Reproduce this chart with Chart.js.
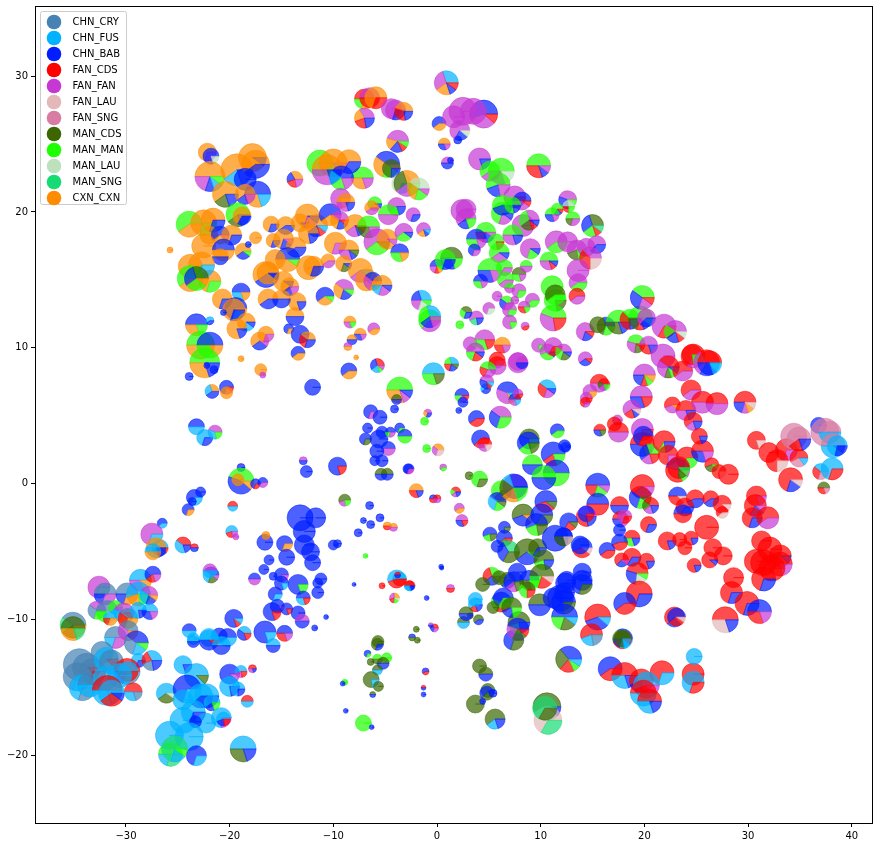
<!DOCTYPE html>
<html>
<head>
<meta charset="utf-8">
<title>Pie scatter</title>
<script src="https://cdn.jsdelivr.net/npm/chart.js@4"></script>
<style>
  html, body { margin: 0; padding: 0; background: #fff; }
  canvas { display: block; }
</style>
</head>
<body>
<canvas id="pieChart" width="879" height="846"></canvas>
<script>
// legend order
const categories = ["CHN_CRY", "CHN_FUS", "CHN_BAB", "FAN_CDS", "FAN_FAN", "FAN_LAU", "FAN_SNG", "MAN_CDS", "MAN_MAN", "MAN_LAU", "MAN_SNG", "CXN_CXN"];
const categoryCodes = ["C", "F", "B", "R", "P", "L", "S", "D", "G", "A", "N", "O"];
const categoryColors = ["#4682b4", "#00b2ff", "#001eff", "#ff0000", "#c637d3", "#e2b8b8", "#d87ca3", "#3b6600", "#1eff00", "#bde0bd", "#15db74", "#ff8c00"];

const xTicks = [-30, -20, -10, 0, 10, 20, 30, 40];
const yTicks = [-20, -10, 0, 10, 20, 30];

// each row: x, y, sample count, slices (biggest first, code + weight)
const pinkOrangeNorth = [
  [-25.75,17.2,9,"O"],[-22.15,24.4,81,"O7P3"],[-21.8,24.1,64,"B8A2"],[-21.9,22.6,225,"O5P2B1F1G1"],[-19.3,23.1,256,"O6F2B2"],[-17.8,24,196,"O9B1"],[-17.5,23.5,196,"O6B4"],[-18.5,22.4,121,"B9"],[-17.3,21.3,169,"B5O3F2"],[-20.4,21.3,169,"O6D2B2"],[-18.5,21.3,100,"O6B2P2"],[-19.2,19.8,144,"G6D2B2"],[-18.8,19.7,81,"O6B3"],
  [-23.9,19.1,169,"G6O4"],[-22.5,19.2,169,"O7G3"],[-21.6,19.4,144,"O7B3"],[-22,18.3,81,"O9"],[-20.9,18.3,81,"B6O3P1"],[-19.8,18.3,100,"O7B3"],[-22.5,17.5,144,"O9"],[-20.6,17.2,121,"B5O5"],[-20.9,16.7,64,"O5B5"],[-18.7,17.1,64,"O6B3G1"],[-17.5,18.1,36,"O"],[-18.2,17.6,9,"B"],
  [-16,19.1,64,"O7B3"],[-14.6,19,81,"O6B4"],[-13.2,19.2,81,"O8B1"],[-12.5,19.7,144,"O7P2B1"],[-11.6,19,121,"O6B2R1F1"],[-10.3,19.8,121,"B6O3P1"],[-9.4,19.4,81,"P4O3B2R1"],[-7.9,19,121,"O6P2B1R1"],[-6.6,18.9,121,"G5D3P2"],[-5.8,17.8,169,"P6G3D1"],[-4.8,18,100,"O8P1"],[-9.8,17.7,121,"O7P3"],[-8.5,17.2,100,"O5P3B1D1"],
  [-15.8,17.9,49,"O7B3"],[-14.8,18,100,"O7B2P1"],[-13.6,17.4,100,"O6B4"],[-12.4,18.4,100,"O7B2"],[-14.4,16.5,144,"B5O4G1"],[-15.6,16.5,100,"O9"],[-16.5,15.4,169,"O6B4"],[-16.3,15.5,121,"O8B1"],[-14.8,14.9,100,"O9B1"],[-14.2,14.5,81,"O6B2P2"],[-12.4,15.9,144,"O8"],[-11.9,16,100,"O7B3"],[-10.5,16.4,49,"O6P4"],[-9,16.2,64,"O7D2B1"],[-7.4,15.7,144,"O6P3F1"],[-6.8,15,121,"O7P1"],[-6.2,14.9,81,"B4P3O3"],[-5.3,14.6,100,"O5F2P2B1"],
  [-3.6,17,81,"B5G3O2"],[-3.2,18.5,81,"P6G3B1"],[-2.3,19.8,49,"P7B3"],[-1.3,18.7,49,"P6O2B1F1"],[-9,14.3,100,"P4O3B2G1"],[-10.8,13.8,81,"B6O3G1"],[-20.7,13.6,100,"O7B3"],[-18.9,14.1,81,"B5F3O2"],[-21.9,14.9,121,"O7G3"],[-23.8,16,144,"O7G3"],[-22.7,16.1,169,"O6F3"],[-23.8,15.1,169,"G6O4"],[-23.2,15.1,144,"D3B3G3O1"],
  [-19.4,12.9,121,"B7F2O1"],[-19.6,12.8,121,"O7B3"],[-20.6,12.6,9,"B"],[-18.4,11.9,81,"O7F2B1"],[-19.3,11.4,100,"O8B2"],[-23.2,11.7,121,"B5O3G2"],[-21.9,12,16,"F6B4"],[-22.8,10.2,196,"G5O5"],[-21.9,10.2,169,"B5G3O2"],[-22.4,8.9,225,"G5O3B2"],[-22.2,8.7,9,"B"],[-21.5,8.4,16,"B"],[-23.9,7.9,16,"B"],[-18.9,9.2,9,"O"],
  [-17.1,10.5,81,"O6B3P1"],[-16.5,11,64,"O7P3"],[-17,8.4,36,"O"],[-16.8,8,9,"P"],[-13.7,12.3,81,"O5B5"],[-13.5,13.4,81,"O8B2"],[-16.3,13.6,100,"O6B4"],[-15,13.6,81,"O5B5"],[-14.3,11.4,25,"B7O3"],[-13.2,11,81,"B8"],[-12.5,10.6,64,"O4R3B3"],[-13.4,9.6,49,"B6O4"],[-8.5,8.3,64,"B6O4"],[-12,7.1,64,"B"],
  [-8.4,11.9,36,"O5P3G2"],[-7.4,11,36,"O5B3P2"],[-8.2,10.6,25,"O5B5"],[-8.6,10.1,16,"P5O5"],[-6.1,11.4,36,"P6O4"],[-7.8,9.3,6,"O"],[-5.75,8.7,49,"R3B3F2G1P1"],
  [-21.7,6.8,49,"O3F3B4"],[-20.3,7.1,49,"B7P2R1"],[-20.3,6.7,36,"O9"],[-4.85,23.5,169,"B4O3G2P1"],[-4.4,23.2,81,"D6B2"],[-3.4,22.1,100,"A7F3"],[-2.9,22.1,169,"O3D3P2G2"],[-1.8,21.7,121,"A4O3G2P1"],[-3.8,25.2,121,"P5O2B2R1G1"],[-7.2,22.5,121,"G5O3P2"],
  [-11.3,23.6,169,"G8O2"],[-10,23.6,196,"O6G2P2"],[-8.5,23.7,144,"O6B3"],[-10.6,23.1,225,"O5P3B2"],[-9.2,22.5,144,"B4F2G2P2"],[-13.7,22.4,64,"O3B2R2P2"],[-9.3,21,100,"P7O2"],[-8.8,20.7,81,"O5P3B2"],[-3.9,20.4,81,"P6G2B2"],[-4.7,19.8,100,"G4P4"],[-6,20.6,49,"G6O3B1"],[-6.3,20.3,49,"O6P4"]
];

const purpleGreenNorth = [
  [0.9,29.5,144,"F3P3O2B1R1"],[-7,28.3,100,"R5G2O3"],[-6.5,28.4,100,"P5R5"],[-5.9,28.4,121,"O7R3"],[-7,26.9,100,"P3O2R2B2"],[-4.4,27.6,100,"P8"],[-4,27.5,100,"P7B3"],[-3.2,27.4,81,"O4R3B2"],[0.2,26.5,49,"B6O4"],[0.7,25,36,"O5B3P2"],[2,25.3,16,"B"],[4.5,27.2,196,"B5P3R1"],[3.5,27.4,169,"P9"],[2.5,27.4,196,"P8"],[1.6,27,121,"P"],[2.2,26,100,"P6B2A1"],[1,23.6,36,"P5B5"],[1.3,23.8,9,"B"],[4.1,23.9,121,"P8B2"],
  [5.1,23,100,"G6P4"],[6.2,23,169,"G6P2A2"],[5.9,22,144,"G5B2P2"],[6.3,19.9,121,"G7P2B1"],[7.5,21.1,121,"P6B3R1"],[8.2,20.8,81,"B5P4R1"],[9.8,23.4,144,"G5R3B1P1"],[6.3,20.5,100,"G5B4"],[7.3,20.5,64,"G7B2"],[2.4,20.1,121,"P8"],[2.8,20.2,100,"P8"],[2.8,19.5,100,"P6B2G2"],[8.3,19,121,"P9"],[8.9,19.4,100,"P3G3D2R1B1"],[12.6,20.9,81,"P4B3A1G1"],[12.7,20.4,36,"A4R2G2"],[11.6,20.2,36,"G6B2R1"],[11.1,19.8,49,"G5B3P2"],[13.1,19.5,49,"G5D2P3"],[15,19,121,"D3B3G2R1N1"],
  [4.7,18.5,100,"G5R2B2P1"],[3.8,18,100,"B5G3P2"],[3.6,17.2,36,"B7P3"],[5.7,17.8,64,"G7R2"],[6,17,100,"G6P3B1"],[7.3,18.3,100,"G5P3B2"],[9,17.3,100,"P7G2B1"],[10.8,16.4,81,"G5P3R1B1"],[11.5,17.8,121,"P6G4"],[12.6,17.8,100,"P8"],[13.5,17.2,100,"P5D2G2"],[14.4,17.4,81,"P7"],[15.4,17.6,81,"P5B3"],[14.8,16.6,121,"P3R3L2"],[13.6,15.7,121,"P9"],[13.6,14.8,81,"P6G4"],[13.5,13.8,64,"R6P4"],[11.1,14.5,121,"G9"],[11.4,13.5,121,"G7D2"],[11.4,13.9,100,"D6G4"],[11.2,12.2,169,"G4P3R2"],
  [5.1,15.7,144,"G5B3P2"],[6.5,15.9,64,"G6P3"],[6.6,15,64,"G6P4"],[4.2,14.9,49,"B5G3P2"],[7.9,15.4,49,"D5G3P2"],[8.6,16,36,"G5P5"],[7.9,14.2,49,"P7G3"],[7,14.4,25,"G5P5"],[5.8,13.8,25,"P"],[6.7,13.3,49,"G4B3P3"],[7,12.8,49,"P7G3"],[7.5,13.5,16,"P"],[9.2,13.5,49,"P6G4"],[8.4,13,36,"P5R3G2"],[5,12.9,36,"P7A3"],[3.8,12.2,49,"P5N2B2"],[2.8,12.6,36,"D4G3B3"],[2.2,11.7,16,"G"],[7,11.9,49,"P8G2"],[8.5,11.6,16,"P6R4"],
  [14.3,11.2,81,"P7B2R1"],[15.5,11.7,64,"D7"],[16.3,11.6,81,"B3D4G3"],[17.5,11.9,144,"G5D3B2"],[18.6,12.1,100,"G3R3B2"],[19.6,12.2,144,"G5D2R1B1N1"],[20.2,12.2,81,"P5B3"],[3.2,10.3,49,"P8G1"],[4.6,10.6,100,"P5G3R2"],[3.7,9.7,81,"P5G2R2B1"],[6.3,10.2,64,"O5R3P2"],[5.8,9.1,64,"R6P3"],[7.8,9,81,"P6"],[9.8,10.2,49,"P7G2"],[10.7,9.7,64,"P5G3B1"],[11.2,10.1,81,"P6R3"],[12.2,9.7,64,"P4G3D2B1"],[14.3,9.2,49,"P6B3R1"],
  [0,16,49,"B5P2R1O1G1"],[1.4,16.6,121,"D5B3G2"],[0.8,16.5,100,"G7B3"],[-1.5,13.5,100,"F3B2P2A2G1"],[-0.7,12,121,"G5P3"],[-0.7,12.3,121,"F3G3B2P2"],
  [-0.35,8.1,121,"F5G3D2"],[1.4,8.8,49,"F3G2R2B2D1"],[-3.6,6.9,169,"G5O3P1B1"],[2.4,6.5,49,"B5G2P2R1"],[2.5,6,25,"B"],[2.1,5.4,9,"B"],[-0.9,5.2,16,"P4O3B3"],[-1.2,4.6,16,"G"],[-1,2.6,16,"G"],[0.1,2.5,36,"O4P3L3"],[0.6,1.2,12,"P6G4"]
];

const redEast = [
  [19.8,13.7,144,"G4B3P2R1"],[21.9,11.6,144,"P6R3"],[23,11.2,121,"P4G2B2R1A1"],[19.2,10.3,81,"G5P3D2R1"],[20.4,10.2,81,"P5R3B2"],[21.8,9.4,144,"P8"],[22.3,8.6,121,"R4P3D1G1B1"],[23.7,8.3,100,"R6P4"],[24.7,9.4,144,"R6P2G1"],[24.6,9.5,100,"R7G2"],[26,8.9,169,"R3P3B2F1"],[26.3,8.9,144,"R5B3F2"],[24.5,6.9,100,"R6P4"],[20,8,121,"P5B2R1G1O1"],[15.65,7.4,81,"R5P5"],[16.1,7.3,36,"R4D2P2G2"],[14.75,6.8,49,"P6O3"],[14.4,6.3,36,"P6R2"],[14.3,6,25,"R7P3"],[19.7,6.4,121,"P5B3R2"],[18.8,5.5,81,"P6R2B1L1"],[22.7,5.8,64,"R5P3O1"],[24,5.4,100,"R5P3B2"],[25.6,6,121,"R4P4"],[27,5.9,121,"R5P5"],[29.7,6,121,"R5B2P1O1L1"],[24.7,4.6,81,"R6P2B2"],
  [17.4,4.7,25,"P7"],[17.1,4.4,49,"R"],[17.5,3.8,100,"R5P5"],[15.7,3.95,36,"R5B3D2"],[19.8,4,121,"P6R2"],[19.8,2.9,144,"R5B3D1P1"],[19.9,3.5,100,"B6R3"],[20.5,2.2,100,"G3B3P2R2"],[21.9,3.1,121,"R6G1B2"],[22.3,2.1,100,"R6P2"],[24.1,1.9,121,"R7G3"],[23.2,1,144,"B5R4G1P1"],[23.3,1.2,121,"R6D1G1"],[25.6,2.4,121,"R5B3P2"],[25.3,3.5,64,"R8B2"],[26.5,1.4,49,"R5D3G1"],[27.2,0.9,49,"R7L2"],[28.1,0.7,100,"R"],
  [30.8,3.2,81,"R8L2"],[32,2.3,100,"R"],[33.7,2.5,121,"R5P2"],[32.8,1.7,121,"R6L2"],[34.9,1.9,81,"R4S2F1"],[34.4,3.5,169,"S"],[34.9,3.3,144,"S6R2B2"],[34.1,0.3,144,"R7B2L1"],[36.8,4.3,64,"B"],[37.4,3.8,196,"S"],[37.9,3.8,121,"S5F5"],[38.2,2.8,144,"S5F4B1"],[38.6,2.8,100,"F5B2"],[37,0.9,64,"F4R3S3"],[38.1,1.1,121,"F7R3"],[37.3,-0.3,36,"D5R3S2"],
  [15.5,-0.1,144,"B5R2G2P1"],[15.5,-1.5,121,"B5R5"],[19.8,-0.2,144,"R6B3P1"],[19.6,-1,121,"R4B3G2D1"],[20.6,-1.6,64,"R4D2P2B2"],[17.6,-1.6,81,"R5B5"],[17.7,-2.6,64,"R5B3P2"],[18.1,-2.4,49,"P7R3"],[23.2,-0.9,81,"B4R3L1"],[24.9,-1.1,81,"R5B4"],[23.9,-1.7,81,"R6B3"],[23.7,-2.2,81,"B5R5"],[26.4,-1.1,64,"R6B4"],[27.5,-1.5,81,"R7L1"],[27.5,-2.1,36,"R5L3"],[30.8,-0.9,100,"R8P2"],[30.7,-1.6,121,"R6B2P1"],[30.4,-2.5,100,"R7B3"],[31.9,-2.5,121,"R6P4"],[26,-3.2,144,"R"],[20.4,-3,64,"R7B3"],
  [17.6,-3.4,36,"B"],[18.8,-4,64,"R5G3B2"],[17.6,-4.3,64,"B5R4"],[16.4,-4.9,64,"B6R4"],[18.8,-5.4,81,"R6B3"],[17.8,-5.6,49,"R5B2P1"],[20.2,-5.7,64,"R8B2"],[19.3,-6.6,121,"R5B3A2G1"],[22.2,-4.2,81,"R8B2"],[23.4,-4.1,49,"R"],[23.9,-4.7,49,"R"],[24.5,-4,49,"R8B2"],[26.6,-4.7,81,"R"],[27.6,-5.3,81,"R"],[26.3,-5.6,64,"R8B1"],[24.8,-6,49,"R8B2"],[28.6,-6.9,100,"R"],
  [31.3,-4.2,100,"R"],[32.1,-4.8,144,"R"],[33.1,-5.3,121,"R8B1"],[30.8,-5.7,144,"R"],[31.5,-5.8,169,"R"],[33.1,-5.9,144,"R7P2"],[32.3,-6.2,169,"R"],[31.5,-7,144,"R7B3"],[14,-4.7,100,"B5R3L1"],[13.8,-4.5,81,"B"],[14.4,-2.4,100,"P4R3B2"],[14.4,-2.2,64,"B7R2"],[12.7,-2.8,81,"B6R2D1"],[12.2,-3.9,81,"B5D3"],[12.4,2.7,25,"B"],
  [28.4,-8,121,"R7B3"],[29.9,-8.8,144,"R7B3"],[31.1,-9.4,144,"B5R3P2"],[27.8,-10,169,"R5L3B2"],[22.9,-9.8,100,"R5B2L1"],[23.1,-9.8,81,"B6R3L1"],[19.5,-8.1,169,"R7B3"],[18.1,-8.8,121,"B6R4"],[15.5,-9.8,169,"R5B3F1"],[14.9,-11.1,121,"R5F2C2"],[17.9,-11.4,100,"B3D2R2F2"],[17.9,-11.4,81,"D5B2F2R1"],
  [16.7,-13.6,144,"B6R4"],[18.1,-14.1,169,"R5F3B2"],[19.7,-14.5,144,"R5B2P2"],[21.7,-13.9,144,"R7F3"],[20.2,-14.8,169,"F5R2P2"],[19.9,-15.4,169,"R5F5"],[20.5,-16,144,"R5F3B2"],[24.7,-14,121,"R8"],[24.7,-14.6,121,"F7R3"],[24.8,-12.7,64,"F"]
];

const mixedCentre = [
  [6.2,-0.5,100,"G5D3"],[5.8,-1.3,81,"B4F3G2D1"],[7.5,-0.2,144,"P6B4"],[7.4,-0.3,196,"B3F1D2O2G2"],[3.8,4.8,64,"B6R4"],[6.1,4.9,121,"P4B3G3"],[6.8,6.7,121,"B4P3O1F1"],[7.5,6.2,36,"B5P3F2"],[7.8,6.6,25,"P5R3"],[4.7,7,25,"F6B4"],[4.8,7.5,49,"P4B3R1F1"],[5.8,8.7,81,"R5P5"],[4.9,8.4,64,"G4R2P3"],[7.8,8.9,100,"P8"],[8.2,8.9,36,"P5B5"],[10.6,7,81,"F4R3P2B1"],[11.6,3.9,49,"B6G4"],[12.3,2.8,36,"B"],[8.9,3.3,100,"D4B3G2"],[8.8,3,121,"B6G2D2"],[4.2,3.3,81,"B5R3"],[4.6,2.9,49,"R5P3L2"],[11.2,2.2,144,"B6R2G2"],[9.2,1.4,100,"G5B5"],[11.5,0.8,169,"B5G5"],[10.3,0.45,144,"G5B5"],[10.5,-1.3,121,"B5R3D1"],
  [3.1,0.6,16,"D"],[4.1,0.35,64,"G7D3"],[-2.8,1.1,25,"B7P3"],[-2,-0.5,49,"O5R3B2"],[-0.35,-1.1,16,"B5R5"],[0,-1.1,16,"R5P5"],[1.8,-0.6,25,"R4G2P2B2"],[2.15,-1.8,25,"P6O4"],[2.4,-2.7,36,"P5B3R2"],
  [8.3,-2.3,121,"D5B3O1"],[10.1,-2.3,121,"B6D3"],[9.6,-3,121,"B5G2D2"],[6.5,-3.2,36,"B6D2"],[5.1,-3.7,49,"B5G2D2"],[6.5,-4,64,"B5D2R1"],[5.8,-4.6,36,"B"],[6.9,-5,121,"N3B3D3"],[8.7,-5,169,"D6B3G1"],[9.7,-4.7,81,"D6B3"],[10.3,-5.6,100,"D5G2B2"],[11.4,-4,169,"B"],[12.2,-3.9,81,"B5D3L2"],[5.3,-6.8,81,"G3R3B3D1"],[6,-6.9,49,"D7"],[4.4,-7.4,49,"D"],[6.8,-7.1,64,"D5B3"],[7.75,-6.5,81,"B"],[7.4,-7.2,100,"B6P2D2"],[8.9,-7.1,100,"B5D3G2"],[10.1,-6.8,144,"D5G2R2L1"],[8.7,-7.8,64,"D3G3R2"],
  [14,-6.5,81,"B"],[12.5,-7.1,81,"B"],[14,-7.1,100,"B"],[11.9,-8.4,169,"B"],[9.9,-8.9,121,"D5B5"],[12.3,-8,100,"B7"],[12.2,-8.7,144,"B6D2"],[11.2,-8.4,100,"B"],[14,-7.4,100,"B7D3"],[12.4,-7.3,100,"B"],[12.3,-9.8,169,"B5G2D2F1"],[7.4,-11.5,100,"B7D3"],[7.9,-10.2,121,"D5G2B2"],[7.8,-10.7,121,"B4P2D2R1"],[6.2,-8.7,100,"B4G2R2D1"],[6.4,-8.4,100,"B6G3"],[7.2,-9.1,100,"D5B2G2"],[5.4,-9.1,36,"D"],[3.7,-8.9,49,"F6R2B2"],[4,-10,25,"D6B4"],[3.2,-9.7,9,"D"],[2.55,-10.2,36,"D5F5"],[2.8,-9.55,49,"D5B5"],
  [12.7,-12.9,169,"B4D3R2G1F1"],[17.9,-11.4,64,"D7F2"],[10.6,-16.4,196,"D5N3B1"],[10.7,-17.4,196,"L6N3"],[10.4,-16.5,144,"N6D3"],[5.6,-17.3,100,"D6F2B2"],[3.7,-16.2,81,"D"],[4.9,-15.2,49,"D6B1"],[4.8,-15.4,49,"B5D3"],[5.4,-15.4,16,"B"],[4.4,-16,9,"B"],[4.1,-13.4,49,"D"],[4.7,-14,49,"D5B5"],
  [0.45,-6.2,4,"B"],[0.4,-6.1,6,"B"],[-1,-8.4,6,"B"],[1.3,-7.7,16,"P5R5"],[-2.7,-7.5,25,"R5F3B2"],[-3.6,-7,49,"F5R5"],[3.7,-8.5,49,"F"],[-0.25,-10.6,16,"R4B3P3"],[-0.6,-10.4,6,"P5B5"],[-1.1,-13.8,12,"B6R4"],[-1.3,-15,6,"R5B5"],[-1.3,-15.5,6,"B"]
];

const blueWest = [
  [-23.2,4.2,64,"B5F5"],[-22.4,3.4,64,"F7B3"],[-21.4,3.8,49,"P4F3G2"],[-6.4,5.3,49,"B7P3"],[-5.5,4.9,49,"B"],[-6.7,4.1,25,"B"],[-6.9,3.3,36,"B7D3"],[-5.3,3.8,36,"B"],[-5.6,3.3,81,"B"],[-4.5,3.8,25,"B5G2P3"],[-3.6,4.1,25,"B7G3"],[-3.1,3.5,49,"B5G5"],[-4.1,5.5,16,"B"],[-3.9,6.2,25,"D5B5"],[-4.7,2.6,49,"B5P5"],[-5.8,2.4,49,"B"],[-6,1.7,25,"B"],[-5.3,1.7,36,"B"],[-2.7,1.1,25,"B7P3"],[-5.4,0.7,36,"D5B5"],[-4.8,0.7,36,"D5B5"],
  [-12.9,1.7,16,"P5B5"],[-12.6,0.9,36,"B"],[-9.6,1.3,81,"B8R2"],[-18.9,1.2,16,"B"],[-18.9,0.2,169,"G4B4O1"],[-19.2,0.3,36,"O8"],[-17.5,0,25,"B7R3"],[-16.8,0.1,25,"B6P4"],[-22.8,-0.6,25,"B"],[-23.4,-1,64,"B6F3"],[-23.6,-1.3,16,"B"],[-24,-1.9,36,"B7O3"],[-19.7,-1.65,25,"R5F5"],[-8.9,-1.2,36,"D5P2G2"],
  [-13.2,-2.5,169,"B"],[-11.7,-2.5,100,"B"],[-12.8,-3.5,121,"B"],[-12.8,-4.5,100,"B"],[-12.2,-5,81,"B"],[-12,-5.8,64,"B"],[-16.6,-4.3,64,"B"],[-16.5,-3.8,16,"O"],[-14.7,-4.4,64,"B7O3"],[-14.5,-5.4,64,"B"],[-16.2,-5.6,25,"B"],[-16.7,-6.3,25,"B"],[-17.6,-7,36,"B5P5"],[-15.8,-6.8,16,"B"],[-15,-6.7,49,"B7P2"],[-15,-7.3,49,"B8F2"],[-13.4,-7.4,100,"B8G2"],[-12.9,-8.4,49,"B5F3R2"],[-11.2,-7,36,"B"],[-11.5,-7.3,25,"B"],[-11.5,-8,36,"B"],[-15.6,-8.1,49,"B7F3"],[-15.4,-9,49,"B7P1"],[-15.9,-9.4,81,"B8R2"],[-14.5,-9.2,36,"B8R2"],[-13.4,-9.5,49,"B"],[-13,-10.1,49,"P5B5"],[-11.8,-10.6,9,"B"],[-10.7,-9.8,6,"B"],
  [-19.6,-9.9,81,"B8R1F1"],[-23.9,-10.8,49,"B5F5"],[-16.6,-10.9,121,"B8F2"],[-14.7,-11,64,"B5R3P2"],[-18.6,-11,49,"F4B4R2"],[-21,-11.2,64,"B7F3"],[-20.2,-11.3,81,"B6F4"],[-22,-11.3,81,"F8"],[-23.5,-11.4,36,"F"],[-24.5,-4.5,64,"R4F4B2"],[-23.4,-4.7,16,"R5B5"],[-26.7,-4.7,64,"F5B3R1"],[-26.5,-2.9,25,"B6F4"],[-19.8,-3.5,36,"F5R2P2"],[-19.4,-3.9,9,"P"],[-21.8,-6.7,64,"B4F3D2P1"],[-21.9,-6.4,49,"P4F4"],[-10,-4.5,25,"B"],[-9.6,-4.4,16,"B"],
  [-7.6,-3.6,16,"B"],[-6.5,-1.6,16,"B"],[-7.1,-2.7,9,"B"],[-6.4,-3,16,"B"],[-5.5,-2.5,16,"B"],[-4.8,-3.1,16,"O5R5"],[-4.2,-3.2,16,"O5P5"],[-6.9,-5.3,6,"G"],[-8,-7.4,4,"B"],[-5.3,-7.5,9,"R"],[-3.9,-7,81,"F5R4"],[-3.8,-6.7,9,"R5B5"],[-2.6,-7.5,25,"R5F3B2"],[-4.1,-8.4,25,"O3P3R2G2A1"],
  [-2,-10.7,9,"D"],[-2.4,-11.3,12,"B5D5"],[-1.9,-11.5,9,"D"],[-5.7,-11.6,36,"D"],[-5.75,-11.8,36,"D7B3"],[-6.7,-12.5,12,"B7G3"],[-6.4,-13.1,12,"D"],[-4.85,-12.8,25,"G"],[-5.75,-12.9,25,"G5D5"],[-5.2,-13.2,36,"D5B5"],[-5.75,-13.7,25,"D5F5"],[-6.35,-14.4,64,"D7F2"],[-5.65,-14.9,25,"D"],[-6.2,-15.5,9,"D5B5"],[-8.9,-14.6,9,"G"],[-9.1,-14.7,6,"B"],[-8.8,-16.7,6,"B"],[-7.1,-17.6,64,"G"],[-6.3,-17.9,6,"B"]
];

const skyblueSouthWest = [
  [-35.1,-10.4,169,"C4N2D2O2"],[-35.1,-10.65,144,"D5O3N2"],[-32.6,-7.6,121,"P7C3"],[-32,-8.1,121,"C5B2P3"],[-29.9,-8.1,121,"C5B2O3"],[-28.6,-7.1,121,"F5P3O2"],[-27.4,-6.65,64,"B6R2P2"],[-28.8,-8.1,144,"F5O2G2"],[-27.8,-8.2,81,"P4F3B2O1"],[-32.8,-9.3,81,"P4C3G3"],[-31.8,-9.4,121,"C4G2A2"],[-31,-9.1,49,"G5F3"],[-30.2,-9.5,100,"P4F2O2R1"],[-27.7,-9.4,64,"F5B3P2"],[-29.8,-9.9,100,"C4R3O3"],[-28.8,-9.3,64,"F7B2"],[-31.5,-9.9,49,"F5R2O3"],[-31,-11.3,121,"C5F2P3"],[-29.8,-10.8,100,"C4P4O2"],[-29,-11.7,144,"B4C3F2G1"],[-28.8,-13,49,"F7B3"],[-27.5,-13,100,"F3R2C2B2"],
  [-32.3,-12.4,121,"C8F2"],[-34.5,-13.3,256,"C"],[-33.8,-13.5,196,"C7R1"],[-34.7,-14.2,196,"C7F3"],[-33.2,-13.8,169,"C7R3"],[-31.9,-12.9,144,"F7R1"],[-31.4,-13.1,144,"C8"],[-34.2,-15,169,"F7C3"],[-33.5,-14.8,144,"C5F5"],[-29.9,-13.8,169,"R5B2C3"],[-29.8,-13.8,100,"F5R5"],[-30.6,-14.1,144,"F"],[-32,-14.3,144,"F"],[-31.8,-15.2,225,"R5F3C2"],[-31.4,-15.4,169,"F6R3B1"],[-29.3,-15.3,81,"R5F3C2"],
  [-23.5,-11.6,36,"F5B5"],[-22,-11.5,100,"F5B4R1"],[-20.8,-11.9,81,"F5B5"],[-15.8,-11.9,49,"F5B5"],[-24.5,-13.3,81,"F8B2"],[-23.2,-14.1,144,"F7D1"],[-20,-14,100,"B8P1"],[-18.9,-13.8,36,"F5P2R2"],[-17.8,-13.6,16,"R5P3B2"],[-20,-14.9,100,"F7B2"],[-19.2,-15.1,49,"F6B2"],[-18.3,-16,36,"R5F5"],
  [-26.1,-15.4,100,"F6D3A1"],[-24.1,-15.1,196,"B7F3"],[-24.5,-15.9,100,"F"],[-22.2,-15.6,144,"F7B2"],[-22.8,-15.6,144,"F5B3"],[-21.7,-16.1,64,"F6B2G2"],[-20.8,-17.2,100,"F6P2"],[-20.6,-17.3,49,"F5B2R2"],[-24.5,-17.4,169,"F"],[-23.5,-16.8,144,"F7B3"],[-22.3,-17.6,100,"F"],[-23.3,-17.5,36,"B"],[-25.8,-18.5,196,"F"],[-23.9,-18.6,196,"F"],[-25.7,-19.9,144,"G5F2N3"],[-25.3,-19.5,169,"N7F2G1"],[-23.2,-20,100,"B7F3"],[-18.7,-19.5,169,"F5D3B2"],
  [-27.5,-3.7,121,"P7F3"],[-27.1,-4.7,100,"O5F3B2"],[-27.4,-5,64,"F5O5"]
];

const pieRows = [...pinkOrangeNorth, ...purpleGreenNorth, ...redEast, ...mixedCentre, ...blueWest, ...skyblueSouthWest];

// "O7P3" -> [{ color, weight }, ...]
function parseSlices(mix) {
  const parts = mix.match(/[A-Z]\d*/g);
  return parts.map((p) => ({
    color: categoryColors[categoryCodes.indexOf(p[0])],
    weight: Number(p.slice(1)) || 1,
  }));
}

const piePoints = pieRows.map((row) => ({
  x: row[0],
  y: row[1],
  r: Math.sqrt(row[2]),
  slices: parseSlices(row[3]),
}));

// legend dots as little canvases, so the text can sit further away from the dot
function legendDot(color) {
  const dot = document.createElement("canvas");
  dot.width = 16;
  dot.height = 16;
  const c = dot.getContext("2d");
  c.fillStyle = color;
  c.beginPath();
  c.arc(8, 8, 7.3, 0, Math.PI * 2);
  c.fill();
  return dot;
}

// draws every bubble as a small pie at the position the bubble controller worked out
const piePlugin = {
  id: "piePlugin",
  afterLayout(chart) {
    // move legend a bit into the axes, like the reference
    chart.legend.left = chart.chartArea.left - 0.5;
    chart.legend.top = chart.chartArea.top + 5;
  },
  beforeDraw(chart) {
    const ctx = chart.ctx;
    const area = chart.chartArea;
    ctx.save();
    ctx.fillStyle = "#fff";
    ctx.fillRect(0, 0, chart.width, chart.height);
    ctx.strokeStyle = "#ccc";
    ctx.lineWidth = 1;
    ctx.beginPath();
    ctx.roundRect(area.left + 5.5, area.top + 5.5, 86, 193, 2);
    ctx.stroke();
    ctx.restore();
  },
  afterDatasetsDraw(chart) {
    const ctx = chart.ctx;
    const area = chart.chartArea;
    const meta = chart.getDatasetMeta(0);
    ctx.save();
    ctx.beginPath();
    ctx.rect(area.left, area.top, area.width, area.height);
    ctx.clip();
    ctx.globalAlpha = 0.7;
    ctx.lineWidth = 0.7;
    meta.data.forEach((el, i) => {
      const point = piePoints[i];
      const total = point.slices.reduce((sum, s) => sum + s.weight, 0);
      let angle = 0;
      point.slices.forEach((s) => {
        const next = angle - (s.weight / total) * Math.PI * 2;
        ctx.beginPath();
        ctx.moveTo(el.x, el.y);
        ctx.arc(el.x, el.y, point.r, angle, next, true);
        ctx.closePath();
        ctx.fillStyle = s.color;
        ctx.strokeStyle = s.color;
        ctx.fill();
        ctx.stroke();
        angle = next;
      });
    });
    ctx.restore();
    ctx.save();
    ctx.strokeStyle = "#000";
    ctx.lineWidth = 1;
    ctx.strokeRect(area.left + 0.5, area.top + 0.5, area.width, area.height);
    ctx.restore();
  },
};

const formatTick = (v) => String(v).replace("-", "\u2212");

new Chart(document.getElementById("pieChart"), {
  type: "bubble",
  data: {
    datasets: [
      {
        label: "pies",
        data: piePoints,
        backgroundColor: "rgba(0,0,0,0)",
        borderWidth: 0,
      },
    ],
  },
  options: {
    responsive: false,
    animation: false,
    layout: { autoPadding: false, padding: { top: 6, right: 7 } },
    plugins: {
      tooltip: { enabled: false },
      legend: {
        position: "chartArea",
        align: "start",
        onClick: null,
        labels: {
          usePointStyle: true,
          pointStyleWidth: 27,
          padding: 6,
          color: "#000",
          font: { family: "DejaVu Sans", size: 10 },
          generateLabels() {
            return categories.map((name, i) => ({
              text: name,
              fillStyle: categoryColors[i],
              strokeStyle: categoryColors[i],
              lineWidth: 0,
              pointStyle: legendDot(categoryColors[i]),
            }));
          },
        },
      },
    },
    scales: {
      x: {
        type: "linear",
        min: -38.77,
        max: 41.95,
        afterFit(scale) {
          scale.height = 23;
          scale.paddingLeft = 0;
          scale.paddingRight = 0;
        },
        afterBuildTicks(scale) { scale.ticks = xTicks.map((value) => ({ value })); },
        border: { color: "#000" },
        grid: { drawOnChartArea: false, color: "#000", tickLength: 4 },
        ticks: {
          color: "#000",
          font: { family: "DejaVu Sans", size: 10 },
          padding: 3,
          maxRotation: 0,
          callback: formatTick,
        },
      },
      y: {
        type: "linear",
        min: -24.95,
        max: 35.15,
        afterFit(scale) {
          scale.width = 35;
          scale.paddingTop = 0;
          scale.paddingBottom = 0;
        },
        afterBuildTicks(scale) { scale.ticks = yTicks.map((value) => ({ value })); },
        border: { color: "#000" },
        grid: { drawOnChartArea: false, color: "#000", tickLength: 4 },
        ticks: {
          color: "#000",
          font: { family: "DejaVu Sans", size: 10 },
          padding: 3,
          callback: formatTick,
        },
      },
    },
  },
  plugins: [piePlugin],
});
</script>
</body>
</html>
